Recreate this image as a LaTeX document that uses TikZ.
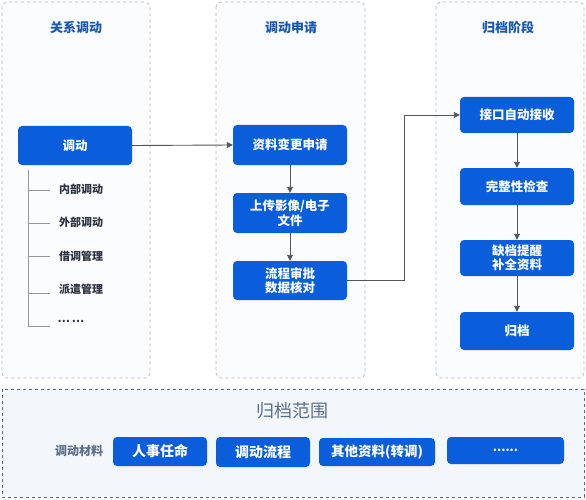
\documentclass[tikz,border=0pt]{standalone}
\usepackage{fontspec}
\setmainfont{Noto Sans CJK SC}
\usetikzlibrary{arrows.meta}
\definecolor{boxblue}{RGB}{10,94,220}
\definecolor{titleblue}{RGB}{26,88,176}
\definecolor{panelgray}{RGB}{178,182,188}
\definecolor{panelfill}{RGB}{251,252,254}
\definecolor{botfill}{RGB}{243,246,250}
\definecolor{botborder}{RGB}{84,102,128}
\definecolor{graytext}{RGB}{90,110,140}
\definecolor{linegray}{RGB}{85,85,85}
\definecolor{treegray}{RGB}{150,150,150}
\definecolor{itemtext}{RGB}{45,50,65}
\tikzset{
  panel/.style={draw=panelgray, dashed, fill=panelfill, rounded corners=5pt, line width=0.7pt},
  bluebox/.style={fill=boxblue, rounded corners=4pt, text=white, font=\bfseries\fontsize{12.5}{14.5}\selectfont, align=center, inner sep=0pt},
  botbox/.style={bluebox, font=\bfseries\fontsize{14}{16}\selectfont},
  ptitle/.style={text=titleblue, font=\bfseries\fontsize{13}{15}\selectfont},
  item/.style={text=itemtext, font=\bfseries\fontsize{11}{13}\selectfont, anchor=center},
  flow/.style={draw=linegray, line width=0.9pt, -{Triangle[length=6pt,width=6pt]}},
}
\begin{document}
\begin{tikzpicture}[x=1pt,y=-1pt]
\useasboundingbox (0,0) rectangle (586,500);
\fill[white] (0,0) rectangle (586,500);
% panels
\draw[panel] (2,2) rectangle (150,378);
\draw[panel] (216,2) rectangle (365,378);
\draw[panel] (436,2) rectangle (584,378);
\draw[draw=botborder, dashed, fill=botfill, line width=0.8pt] (2,389) rectangle (584,497);
% titles
\node[ptitle] (t1) at (76,28) {关系调动};
\node[ptitle] (t2) at (291,28) {调动申请};
\node[ptitle] (t3) at (508,28) {归档阶段};
% left
\node[bluebox, minimum width=114pt, minimum height=39pt] (td) at (75,145.5) {调动};
\coordinate (tr0) at (28,170);
\coordinate (tr1) at (28,326);
\draw[treegray, line width=0.8pt] (tr0) -- (tr1);
\foreach \yy/\nm in {190/a,223/b,256/c,293/d,326/e}{
  \coordinate (b\nm) at (28,\yy);
  \coordinate (c\nm) at (50,\yy);
  \draw[treegray, line width=0.8pt] (b\nm) -- (c\nm);
}
\node[item] (ia) at (81,189) {内部调动};
\node[item] (ib) at (81,222) {外部调动};
\node[item] (ic) at (81,256) {借调管理};
\node[item] (id) at (81,289) {派遣管理};
\node[item] (ie) at (71,321) {…\,…};
% middle
\node[bluebox, minimum width=114pt, minimum height=40pt] (m1) at (290,145) {资料变更申请};
\node[bluebox, minimum width=114pt, minimum height=40pt] (m2) at (290,213) {上传影像/电子\\文件};
\node[bluebox, minimum width=114pt, minimum height=39pt] (m3) at (290,280.5) {流程审批\\数据核对};
% right
\node[bluebox, minimum width=114pt, minimum height=36pt] (r1) at (517,115) {接口自动接收};
\node[bluebox, minimum width=114pt, minimum height=37pt] (r2) at (517,186.5) {完整性检查};
\node[bluebox, minimum width=114pt, minimum height=36pt] (r3) at (517,258) {缺档提醒\\补全资料};
\node[bluebox, minimum width=114pt, minimum height=38pt] (r4) at (517,331) {归档};
% connectors
\draw[flow] (td.east) -- (m1.west);
\draw[flow] (m1.south) -- (m2.north);
\draw[flow] (m2.south) -- (m3.north);
\draw[flow] (m3.east) -- (404,280.5) |- (r1.west);
\draw[flow] (r1.south) -- (r2.north);
\draw[flow] (r2.south) -- (r3.north);
\draw[flow] (r3.south) -- (r4.north);
% bottom
\node[text=graytext, font=\fontsize{18}{20}\selectfont] (bt) at (292,411) {归档范围};
\node[text=graytext, font=\bfseries\fontsize{12}{14}\selectfont] (bl) at (79,451) {调动材料};
\node[botbox, minimum width=94pt, minimum height=29pt] (k1) at (160,451.5) {人事任命};
\node[botbox, minimum width=94pt, minimum height=30pt] (k2) at (263,452) {调动流程};
\node[botbox, minimum width=116pt, minimum height=28pt, font=\bfseries\fontsize{13.5}{15}\selectfont] (k3) at (377,452) {其他资料(转调)};
\node[botbox, minimum width=117pt, minimum height=27pt, font=\bfseries\fontsize{12}{14}\selectfont] (k4) at (505.5,450.5) {......};
\end{tikzpicture}
\end{document}
